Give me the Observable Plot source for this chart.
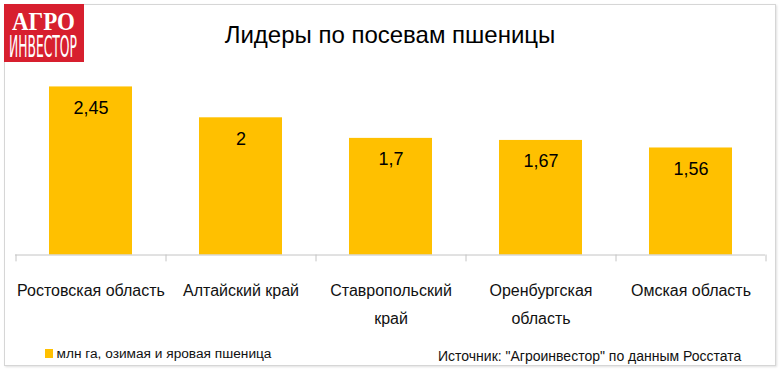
<!DOCTYPE html>
<html>
<head>
<meta charset="utf-8">
<script src="https://cdn.jsdelivr.net/npm/d3@7"></script>
<script src="https://cdn.jsdelivr.net/npm/@observablehq/plot@0.6"></script>
<style>
  html, body { margin: 0; padding: 0; background: #fff; }
  #wrap { position: relative; width: 780px; height: 373px; overflow: hidden; font-family: "Liberation Sans", Arial, sans-serif; }
  #chart { position: absolute; left: 0; top: 0; }
  .frame { position: absolute; left: 4px; top: 4px; width: 772px; height: 362px; box-sizing: border-box; border: 1px solid #d6d6d6; box-shadow: 1px 1px 2px rgba(0,0,0,0.12); pointer-events: none; }
  .title { position: absolute; left: 0; width: 780px; text-align: center; top: 22.7px; font-size: 24px; line-height: 24px; color: #000; white-space: nowrap; }
  .legend { position: absolute; left: 45px; top: 346.5px; font-size: 13.7px; line-height: 13.7px; color: #111; white-space: nowrap; }
  .legend .sw { position: absolute; left: 0; top: 2.5px; width: 8px; height: 9px; background: #FFC000; }
  .legend .lt { position: absolute; left: 11.5px; top: 0; }
  .source { position: absolute; left: 438px; top: 349px; font-size: 14px; line-height: 14px; color: #111; white-space: nowrap; }
  .logo { position: absolute; left: 4px; top: 4px; width: 80px; height: 58px; background: #d71f2e; overflow: hidden; }
  .logo svg { display: block; overflow: visible; }
</style>
</head>
<body>
<div id="wrap">
  <div id="chart"></div>
  <div class="frame"></div>
  <div class="logo">
    <svg width="80" height="58">
      <text x="8" y="25.5" fill="#fff" font-family="Liberation Serif, DejaVu Serif, serif" font-weight="bold" font-size="26" textLength="63" lengthAdjust="spacingAndGlyphs">АГРО</text>
      <text x="5" y="53" fill="#fff" font-family="Liberation Sans Narrow, DejaVu Sans Condensed, Liberation Sans, sans-serif" font-size="30" textLength="68" lengthAdjust="spacingAndGlyphs">ИНВЕСТОР</text>
    </svg>
  </div>
  <div class="title">Лидеры по посевам пшеницы</div>
  <div class="legend"><span class="sw"></span><span class="lt">млн га, озимая и яровая пшеница</span></div>
  <div class="source">Источник: "Агроинвестор" по данным Росстата</div>
</div>
<script>
const categories = ["Ростовская область", "Алтайский край", "Ставропольский край", "Оренбургская область", "Омская область"];
const tickLabels = ["Ростовская область", "Алтайский край", "Ставропольский\nкрай", "Оренбургская\nобласть", "Омская область"];
const values = [2.45, 2, 1.7, 1.67, 1.56];

const data = categories.map((c, i) => ({region: c, value: values[i]}));
const labelOf = new Map(categories.map((c, i) => [c, tickLabels[i]]));
const fmt = v => String(v).replace(".", ",");

const chart = Plot.plot({
  width: 780,
  height: 373,
  marginLeft: 15,
  marginRight: 15,
  marginTop: 83,
  marginBottom: 118.5,
  style: {background: "transparent", fontFamily: "Liberation Sans, Arial, sans-serif", color: "#000"},
  x: {domain: categories, paddingInner: 0.447, paddingOuter: 0.2235, axis: null},
  y: {domain: [0, 2.5], axis: null},
  marks: [
    Plot.barY(data, {x: "region", y: "value", fill: "#FFC000"}),
    Plot.ruleY([0], {stroke: "#c4c4c4", strokeWidth: 1}),
    Plot.ruleX(categories, {x: d => d, y1: 0, y2: -0.1, dx: -75, stroke: "#c4c4c4"}),
    Plot.ruleX(categories.slice(-1), {x: d => d, y1: 0, y2: -0.1, dx: 75, stroke: "#c4c4c4"}),
    Plot.text(data, {x: "region", y: "value", text: d => fmt(d.value), dy: 21, fontSize: 18, fill: "#000", lineAnchor: "middle"}),
    Plot.axisX({tickSize: 0, tickPadding: 21, fontSize: 16, lineHeight: 1.75, lineAnchor: "top", fill: "#111", label: null, tickFormat: d => labelOf.get(d)})
  ]
});
document.getElementById("chart").appendChild(chart);
</script>
</body>
</html>
